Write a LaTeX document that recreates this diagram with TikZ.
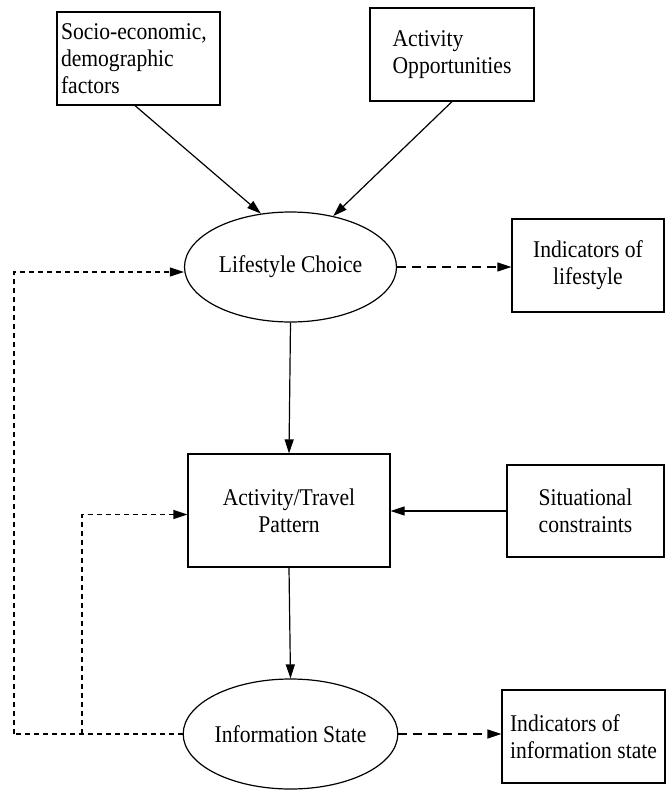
\documentclass[tikz,border=0pt]{standalone}
\usepackage{fontspec}
\setmainfont{Liberation Serif}[FakeStretch=0.9]
\usetikzlibrary{arrows.meta,shapes.geometric}
\begin{document}
\begin{tikzpicture}[x=1pt,y=-1pt,
  txt/.style={font=\fontsize{24}{27}\selectfont},
  box/.style={txt,draw,line width=1.2pt,rectangle,inner sep=2pt},
  oval/.style={txt,draw,line width=1.2pt,ellipse,inner sep=0pt,minimum width=212pt,minimum height=110pt},
  tip/.style={-{Triangle[length=14pt,width=9pt]}},
  arr/.style={line width=1.2pt,tip},
  ldash/.style={arr,dash pattern=on 9pt off 6pt},
  sdash/.style={line width=1.2pt,dash pattern=on 5pt off 4pt},
]
\useasboundingbox (0,0) rectangle (666,790);
\node[box,minimum width=163pt,minimum height=93pt,text width=155pt,align=left] (soc) at (138.5,58.5) {Socio-economic,\\demographic\\factors};
\node[box,minimum width=164pt,minimum height=93pt,align=left] (opp) at (452,54.5) {Activity\\Opportunities};
\node[oval] (lc) at (290.5,267) {Lifestyle Choice};
\node[box,minimum width=152pt,minimum height=93pt,align=center] (il) at (588,265.5) {Indicators of\\lifestyle};
\node[box,minimum width=202pt,minimum height=113pt,align=center] (atp) at (289,510.5) {Activity/Travel\\Pattern};
\node[box,minimum width=157pt,minimum height=92pt,align=left] (sit) at (585.5,511) {Situational\\constraints};
\node[oval] (is) at (290.5,734) {Information State};
\node[box,minimum width=163pt,minimum height=93pt,align=left] (iis) at (583.5,736.5) {Indicators of\\information state};
\coordinate (c1) at (14,734);
\coordinate (c2) at (82,734);

\draw[arr] ([xshift=-3.5pt]soc.south) -- (lc.119);
\draw[arr] (opp.south) -- (lc.50);
\draw[ldash] (lc.east) -- (lc.east -| il.west);
\draw[arr] (lc.south) -- (atp.north);
\draw[arr] (sit.west) -- (sit.west -| atp.east);
\draw[arr] (atp.south) -- (is.north);
\draw[ldash] (is.east) -- (is.east -| iis.west);
\draw[sdash] (is.west) -- (c1);
\draw[sdash,tip] (c1) |- ([yshift=-5pt]lc.west);
\draw[sdash,tip] (c2) |- ([yshift=-4pt]atp.west);
\end{tikzpicture}
\end{document}
